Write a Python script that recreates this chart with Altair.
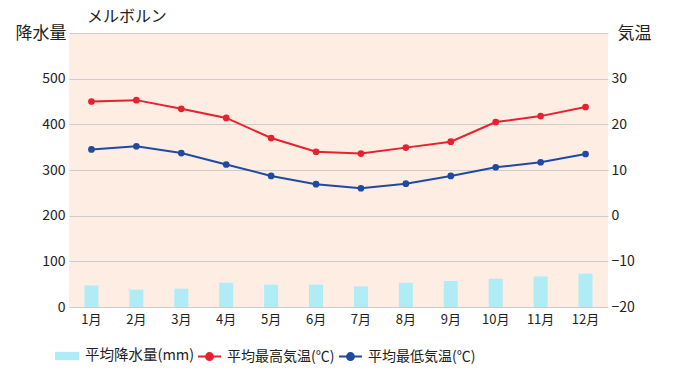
import altair as alt
import pandas as pd

months = ["1月", "2月", "3月", "4月", "5月", "6月", "7月", "8月", "9月", "10月", "11月", "12月"]
precip = [47, 38, 40, 53, 49, 49, 45, 53, 57, 62, 67, 73]
tmax = [25.0, 25.3, 23.4, 21.4, 17.0, 14.0, 13.6, 14.9, 16.2, 20.5, 21.8, 23.8]
tmin = [14.5, 15.2, 13.7, 11.2, 8.7, 6.9, 6.0, 7.0, 8.7, 10.6, 11.7, 13.5]

s_prec = "平均降水量(mm)"
s_max = "平均最高気温(℃)"
s_min = "平均最低気温(℃)"
chart_title = "メルボルン"

FONT = "Noto Sans CJK JP"

df_bar = pd.DataFrame({"month": months, "value": precip, "series": [s_prec] * 12})
df_line = pd.DataFrame({
    "month": months * 2,
    "value": tmax + tmin,
    "series": [s_max] * 12 + [s_min] * 12,
})

xenc = alt.X("month:N", sort=months, title=None,
             scale=alt.Scale(paddingInner=0, paddingOuter=0),
             axis=alt.Axis(labelAngle=0, ticks=False, domain=False, labelPadding=6,
                           labelFontSize=13, labelColor="#222", labelFont=FONT))

bars = alt.Chart(df_bar).mark_bar(size=14).encode(
    x=xenc,
    y=alt.Y("value:Q", scale=alt.Scale(domain=[0, 600], nice=False),
            axis=alt.Axis(values=list(range(0, 700, 100)),
                          labelExpr="datum.value == 600 ? '' : datum.label",
                          grid=True, gridColor="#cccccc", domain=False, ticks=False,
                          labelPadding=4, labelFontSize=14, labelColor="#222", labelFont=FONT,
                          title="降水量", titleAngle=0, titleAlign="right", titleX=-3, titleY=0,
                          titleBaseline="middle", titleFontSize=17, titleFontWeight="normal",
                          titleFont=FONT, titleColor="#222")),
    fill=alt.Fill("series:N", scale=alt.Scale(domain=[s_prec], range=["#b0ecf6"]),
                  legend=alt.Legend(title=None, orient="none", legendX=-14, legendY=311,
                                    symbolType="M-1,-0.35H1V0.35H-1Z", symbolSize=576,
                                    labelFontSize=14.5, labelFont=FONT, labelColor="#222",
                                    labelOffset=6, padding=0, symbolStrokeWidth=0)),
)

temp_y = alt.Y("value:Q", scale=alt.Scale(domain=[-20, 40], nice=False),
               axis=alt.Axis(orient="right", values=list(range(-20, 50, 10)),
                             labelExpr="datum.value == 40 ? '' : datum.label",
                             grid=False, domain=False, ticks=False,
                             labelPadding=3, labelFontSize=14, labelColor="#222", labelFont=FONT,
                             title="気温", titleAngle=0, titleAlign="left", titleX=9, titleY=0,
                             titleBaseline="middle", titleFontSize=17, titleFontWeight="normal",
                             titleFont=FONT, titleColor="#222"))

color = alt.Color("series:N", scale=alt.Scale(domain=[s_max, s_min], range=["#e8202f", "#1f4aa0"]),
                  legend=alt.Legend(title=None, orient="none", legendX=128, legendY=311,
                                    direction="horizontal",
                                    symbolType="M-1,0H1M0.3,0A0.3,0.3,0,1,1,-0.3,0A0.3,0.3,0,1,1,0.3,0",
                                    symbolSize=529, symbolStrokeWidth=2,
                                    labelFontSize=14, labelFont=FONT, labelColor="#222",
                                    labelOffset=5, padding=0, columnPadding=0))

lines = alt.Chart(df_line).mark_line(strokeWidth=2).encode(
    x=xenc, y=temp_y, color=color, detail="series:N"
)
pts = alt.Chart(df_line).mark_circle(size=45, opacity=1).encode(
    x=xenc, y=temp_y, color=color
)

title_txt = alt.Chart(pd.DataFrame({"t": [chart_title]})).mark_text(
    align="left", baseline="middle", fontSize=16, font=FONT, color="#222", clip=False
).encode(text="t:N", x=alt.value(18), y=alt.value(-16))

temp = alt.layer(lines, pts)

chart = alt.layer(bars, temp, title_txt).resolve_scale(y="independent").properties(
    width=539, height=274,
    padding={"left": 7, "top": 1, "right": 5, "bottom": 5},
    autosize=alt.AutoSizeParams(type="pad"),
).configure_view(fill="#fdede3", stroke=None)

chart.save("out.html", embed_options={"renderer": "svg", "actions": False})
